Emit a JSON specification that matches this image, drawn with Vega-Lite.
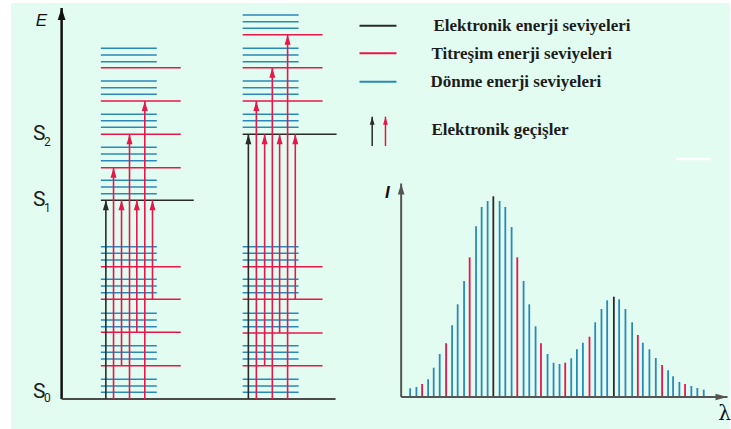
{
  "$schema": "https://vega.github.io/schema/vega-lite/v6.json",
  "width": 731,
  "height": 429,
  "padding": 0,
  "autosize": {"type": "fit", "contains": "padding"},
  "background": "#ffffff",
  "view": {"stroke": null},
  "config": {"axis": {"disable": true}},
  "datasets": {
    "panel": [{"x": 11, "x2": 731, "y": 3, "y2": 429}],
    "extents": [
      {"band": "L-donme", "x": 101, "x2": 157},
      {"band": "L-titresim", "x": 101, "x2": 181},
      {"band": "L-elektronik", "x": 101, "x2": 194},
      {"band": "R-donme", "x": 243, "x2": 299},
      {"band": "R-titresim", "x": 243, "x2": 323},
      {"band": "R-elektronik", "x": 243, "x2": 337}
    ],
    "levels": [
      {"band": "L-donme", "y": 48.3, "type": "donme"}, {"band": "L-donme", "y": 55, "type": "donme"}, {"band": "L-donme", "y": 61.7, "type": "donme"}, {"band": "L-titresim", "y": 67.7, "type": "titresim"},
      {"band": "L-donme", "y": 81, "type": "donme"}, {"band": "L-donme", "y": 87.7, "type": "donme"}, {"band": "L-donme", "y": 94.3, "type": "donme"}, {"band": "L-titresim", "y": 101, "type": "titresim"},
      {"band": "L-donme", "y": 114.3, "type": "donme"}, {"band": "L-donme", "y": 120.7, "type": "donme"}, {"band": "L-donme", "y": 127.3, "type": "donme"}, {"band": "L-titresim", "y": 134.3, "type": "titresim"},
      {"band": "L-donme", "y": 147.3, "type": "donme"}, {"band": "L-donme", "y": 154, "type": "donme"}, {"band": "L-donme", "y": 160.7, "type": "donme"}, {"band": "L-titresim", "y": 167.7, "type": "titresim"},
      {"band": "L-donme", "y": 180.3, "type": "donme"}, {"band": "L-donme", "y": 187, "type": "donme"}, {"band": "L-donme", "y": 193.7, "type": "donme"}, {"band": "L-elektronik", "y": 200.3, "type": "elektronik"},
      {"band": "L-donme", "y": 246.7, "type": "donme"}, {"band": "L-donme", "y": 253.3, "type": "donme"}, {"band": "L-donme", "y": 260, "type": "donme"}, {"band": "L-titresim", "y": 266.7, "type": "titresim"},
      {"band": "L-donme", "y": 279.3, "type": "donme"}, {"band": "L-donme", "y": 286, "type": "donme"}, {"band": "L-donme", "y": 292.7, "type": "donme"}, {"band": "L-titresim", "y": 299.3, "type": "titresim"},
      {"band": "L-donme", "y": 313.3, "type": "donme"}, {"band": "L-donme", "y": 320, "type": "donme"}, {"band": "L-donme", "y": 326.7, "type": "donme"}, {"band": "L-titresim", "y": 332.3, "type": "titresim"},
      {"band": "L-donme", "y": 345.7, "type": "donme"}, {"band": "L-donme", "y": 352.3, "type": "donme"}, {"band": "L-donme", "y": 359, "type": "donme"}, {"band": "L-titresim", "y": 365.7, "type": "titresim"},
      {"band": "L-donme", "y": 379.3, "type": "donme"}, {"band": "L-donme", "y": 386, "type": "donme"}, {"band": "L-donme", "y": 392.3, "type": "donme"},
      {"band": "R-donme", "y": 15, "type": "donme"}, {"band": "R-donme", "y": 21.7, "type": "donme"}, {"band": "R-donme", "y": 28.3, "type": "donme"}, {"band": "R-titresim", "y": 34.7, "type": "titresim"},
      {"band": "R-donme", "y": 48.3, "type": "donme"}, {"band": "R-donme", "y": 55, "type": "donme"}, {"band": "R-donme", "y": 61.7, "type": "donme"}, {"band": "R-titresim", "y": 67.7, "type": "titresim"},
      {"band": "R-donme", "y": 81, "type": "donme"}, {"band": "R-donme", "y": 87.7, "type": "donme"}, {"band": "R-donme", "y": 94.3, "type": "donme"}, {"band": "R-titresim", "y": 101, "type": "titresim"},
      {"band": "R-donme", "y": 114.3, "type": "donme"}, {"band": "R-donme", "y": 120.7, "type": "donme"}, {"band": "R-donme", "y": 127.3, "type": "donme"}, {"band": "R-elektronik", "y": 134.3, "type": "elektronik"},
      {"band": "R-donme", "y": 246.7, "type": "donme"}, {"band": "R-donme", "y": 253.3, "type": "donme"}, {"band": "R-donme", "y": 260, "type": "donme"}, {"band": "R-titresim", "y": 266.7, "type": "titresim"},
      {"band": "R-donme", "y": 279.3, "type": "donme"}, {"band": "R-donme", "y": 286, "type": "donme"}, {"band": "R-donme", "y": 292.7, "type": "donme"}, {"band": "R-titresim", "y": 299.3, "type": "titresim"},
      {"band": "R-donme", "y": 313.3, "type": "donme"}, {"band": "R-donme", "y": 320, "type": "donme"}, {"band": "R-donme", "y": 326.7, "type": "donme"}, {"band": "R-titresim", "y": 333, "type": "titresim"},
      {"band": "R-donme", "y": 345.7, "type": "donme"}, {"band": "R-donme", "y": 352.3, "type": "donme"}, {"band": "R-donme", "y": 359, "type": "donme"}, {"band": "R-titresim", "y": 365.7, "type": "titresim"},
      {"band": "R-donme", "y": 379.3, "type": "donme"}, {"band": "R-donme", "y": 386, "type": "donme"}, {"band": "R-donme", "y": 392.3, "type": "donme"}
    ],
    "arrows": [
      {"x": 106, "y": 399, "y2": 200.3, "type": "elektronik"},
      {"x": 113.7, "y": 399, "y2": 167.7, "type": "titresim"},
      {"x": 121.7, "y": 365.7, "y2": 200.3, "type": "titresim"},
      {"x": 129.7, "y": 399, "y2": 134.3, "type": "titresim"},
      {"x": 137, "y": 332.3, "y2": 200.3, "type": "titresim"},
      {"x": 145, "y": 399, "y2": 101, "type": "titresim"},
      {"x": 152.7, "y": 299.3, "y2": 200.3, "type": "titresim"},
      {"x": 248.7, "y": 399, "y2": 134.3, "type": "elektronik"},
      {"x": 256.7, "y": 399, "y2": 101, "type": "titresim"},
      {"x": 265, "y": 365.7, "y2": 134.3, "type": "titresim"},
      {"x": 272.7, "y": 399, "y2": 67.7, "type": "titresim"},
      {"x": 280, "y": 333, "y2": 134.3, "type": "titresim"},
      {"x": 288, "y": 399, "y2": 34.7, "type": "titresim"},
      {"x": 295.7, "y": 299.3, "y2": 134.3, "type": "titresim"}
    ],
    "legendArrows": [
      {"x": 372.7, "y": 146, "y2": 116.7, "type": "elektronik"},
      {"x": 386, "y": 146, "y2": 116.7, "type": "titresim"}
    ],
    "legendLines": [
      {"x": 360, "x2": 397, "y": 25.7, "type": "elektronik"},
      {"x": 360, "x2": 397, "y": 53.3, "type": "titresim"},
      {"x": 360, "x2": 397, "y": 81.7, "type": "donme"}
    ],
    "whiteDash": [{"x": 677, "x2": 711.5, "y": 159}],
    "spectrum": [
      {"x": 410.7, "top": 388.3, "type": "donme"},
      {"x": 417, "top": 387, "type": "donme"},
      {"x": 422.7, "top": 384, "type": "titresim"},
      {"x": 428.7, "top": 379.3, "type": "donme"},
      {"x": 434.3, "top": 367.7, "type": "donme"},
      {"x": 440.3, "top": 354, "type": "donme"},
      {"x": 446.7, "top": 343.3, "type": "titresim"},
      {"x": 452.7, "top": 325.3, "type": "donme"},
      {"x": 458.3, "top": 304.3, "type": "donme"},
      {"x": 464.7, "top": 281, "type": "donme"},
      {"x": 470.3, "top": 257.3, "type": "titresim"},
      {"x": 476.7, "top": 226.3, "type": "donme"},
      {"x": 482.3, "top": 207, "type": "donme"},
      {"x": 488.3, "top": 201, "type": "donme"},
      {"x": 494, "top": 196.3, "type": "elektronik"},
      {"x": 500.3, "top": 201, "type": "donme"},
      {"x": 506, "top": 207, "type": "donme"},
      {"x": 512.3, "top": 227, "type": "donme"},
      {"x": 518, "top": 257.3, "type": "titresim"},
      {"x": 524.3, "top": 281, "type": "donme"},
      {"x": 530, "top": 304.3, "type": "donme"},
      {"x": 536.3, "top": 326.3, "type": "donme"},
      {"x": 541.7, "top": 343.3, "type": "titresim"},
      {"x": 548.3, "top": 354, "type": "donme"},
      {"x": 554.3, "top": 362.7, "type": "donme"},
      {"x": 560.3, "top": 364, "type": "donme"},
      {"x": 566, "top": 362.7, "type": "titresim"},
      {"x": 572, "top": 358.3, "type": "donme"},
      {"x": 577.7, "top": 349.3, "type": "donme"},
      {"x": 583.7, "top": 342.7, "type": "donme"},
      {"x": 590.3, "top": 336.7, "type": "titresim"},
      {"x": 596, "top": 322.3, "type": "donme"},
      {"x": 602.3, "top": 309, "type": "donme"},
      {"x": 608, "top": 300.3, "type": "donme"},
      {"x": 614.7, "top": 296.7, "type": "elektronik"},
      {"x": 620, "top": 299.3, "type": "donme"},
      {"x": 626.3, "top": 309, "type": "donme"},
      {"x": 633, "top": 322.3, "type": "donme"},
      {"x": 638.7, "top": 335, "type": "titresim"},
      {"x": 643.7, "top": 342.7, "type": "donme"},
      {"x": 650.3, "top": 349.3, "type": "donme"},
      {"x": 656.7, "top": 358, "type": "donme"},
      {"x": 663, "top": 365, "type": "titresim"},
      {"x": 669, "top": 370.3, "type": "donme"},
      {"x": 674, "top": 376.3, "type": "donme"},
      {"x": 680.3, "top": 382, "type": "donme"},
      {"x": 686, "top": 384, "type": "titresim"},
      {"x": 692.3, "top": 386, "type": "donme"},
      {"x": 698.3, "top": 388, "type": "donme"},
      {"x": 704.7, "top": 389.7, "type": "donme"}
    ],
    "axisE": [{"x": 61.7, "y": 399, "y2": 8}],
    "axisEBase": [{"x": 61.7, "x2": 336, "y": 399}],
    "axisI": [{"x": 401.7, "y": 397, "y2": 183.5}],
    "axisLambda": [{"x": 401.7, "x2": 728.5, "y": 397}],
    "legendText": [
      {"x": 434, "y": 26, "text": "Elektronik enerji seviyeleri"},
      {"x": 432, "y": 53.5, "text": "Titreşim enerji seviyeleri"},
      {"x": 431, "y": 81.5, "text": "Dönme enerji seviyeleri"},
      {"x": 432, "y": 129.5, "text": "Elektronik geçişler"}
    ],
    "stateText": [
      {"x": 33, "y": 140, "text": "S"},
      {"x": 33, "y": 206, "text": "S"},
      {"x": 33, "y": 398, "text": "S"}
    ],
    "subText": [
      {"x": 44, "y": 146, "text": "2"},
      {"x": 44, "y": 212, "text": "1"},
      {"x": 44, "y": 402, "text": "0"}
    ],
    "labelE": [{"x": 41.5, "y": 25.5, "text": "E"}],
    "labelI": [{"x": 388, "y": 197.5, "text": "I"}],
    "lambdaLabel": [{"x": 725.5, "y": 420, "text": "λ"}]
  },
  "layer": [
    {
      "data": {"name": "panel"},
      "mark": {"type": "rect", "color": "#e3fcf1"},
      "encoding": {
        "x": {"field": "x", "type": "quantitative", "scale": {"domain": [0, 731], "nice": false, "zero": false}},
        "x2": {"field": "x2"},
        "y": {"field": "y", "type": "quantitative", "scale": {"domain": [0, 429], "nice": false, "zero": false, "reverse": true}},
        "y2": {"field": "y2"}
      }
    },
    {
      "data": {"name": "whiteDash"},
      "mark": {"type": "rule", "color": "#ffffff", "strokeWidth": 2.5},
      "encoding": {
        "x": {"field": "x", "type": "quantitative"},
        "x2": {"field": "x2"},
        "y": {"field": "y", "type": "quantitative"}
      }
    },
    {
      "data": {"name": "levels"},
      "transform": [
        {"lookup": "band", "from": {"data": {"name": "extents"}, "key": "band", "fields": ["x", "x2"]}}
      ],
      "mark": {"type": "rule", "strokeWidth": 1.6},
      "encoding": {
        "x": {"field": "x", "type": "quantitative"},
        "x2": {"field": "x2"},
        "y": {"field": "y", "type": "quantitative"},
        "color": {"field": "type", "type": "nominal", "legend": null, "scale": {"domain": ["elektronik", "titresim", "donme"], "range": ["#2a2a2a", "#e8174a", "#2a89b9"]}}
      }
    },
    {
      "data": {"name": "axisE"},
      "mark": {"type": "rule", "color": "#111111", "strokeWidth": 2.5},
      "encoding": {
        "x": {"field": "x", "type": "quantitative"},
        "y": {"field": "y", "type": "quantitative"},
        "y2": {"field": "y2"}
      }
    },
    {
      "data": {"name": "axisE"},
      "mark": {"type": "point", "shape": "M0,-1L0.65,1L-0.65,1Z", "filled": true, "opacity": 1, "color": "#111111", "size": 144, "yOffset": 6},
      "encoding": {
        "x": {"field": "x", "type": "quantitative"},
        "y": {"field": "y2", "type": "quantitative"}
      }
    },
    {
      "data": {"name": "axisEBase"},
      "mark": {"type": "rule", "color": "#4a4a4a", "strokeWidth": 2},
      "encoding": {
        "x": {"field": "x", "type": "quantitative"},
        "x2": {"field": "x2"},
        "y": {"field": "y", "type": "quantitative"}
      }
    },
    {
      "data": {"name": "arrows"},
      "mark": {"type": "rule", "strokeWidth": 1.6},
      "encoding": {
        "x": {"field": "x", "type": "quantitative"},
        "y": {"field": "y", "type": "quantitative"},
        "y2": {"field": "y2"},
        "color": {"field": "type", "type": "nominal", "legend": null}
      }
    },
    {
      "data": {"name": "arrows"},
      "mark": {"type": "point", "shape": "M0,-1L0.6,1L-0.6,1Z", "filled": true, "opacity": 1, "size": 100, "yOffset": 5},
      "encoding": {
        "x": {"field": "x", "type": "quantitative"},
        "y": {"field": "y2", "type": "quantitative"},
        "color": {"field": "type", "type": "nominal", "legend": null}
      }
    },
    {
      "data": {"name": "legendLines"},
      "mark": {"type": "rule", "strokeWidth": 2},
      "encoding": {
        "x": {"field": "x", "type": "quantitative"},
        "x2": {"field": "x2"},
        "y": {"field": "y", "type": "quantitative"},
        "color": {"field": "type", "type": "nominal", "legend": null}
      }
    },
    {
      "data": {"name": "legendArrows"},
      "mark": {"type": "rule", "strokeWidth": 1.5},
      "encoding": {
        "x": {"field": "x", "type": "quantitative"},
        "y": {"field": "y", "type": "quantitative"},
        "y2": {"field": "y2"},
        "color": {"field": "type", "type": "nominal", "legend": null}
      }
    },
    {
      "data": {"name": "legendArrows"},
      "mark": {"type": "point", "shape": "M0,-1L0.6,1L-0.6,1Z", "filled": true, "opacity": 1, "size": 64, "yOffset": 4},
      "encoding": {
        "x": {"field": "x", "type": "quantitative"},
        "y": {"field": "y2", "type": "quantitative"},
        "color": {"field": "type", "type": "nominal", "legend": null}
      }
    },
    {
      "data": {"name": "spectrum"},
      "mark": {"type": "rule", "strokeWidth": 1.8},
      "encoding": {
        "x": {"field": "x", "type": "quantitative"},
        "y": {"field": "top", "type": "quantitative"},
        "y2": {"datum": 397},
        "color": {"field": "type", "type": "nominal", "legend": null}
      }
    },
    {
      "data": {"name": "axisI"},
      "mark": {"type": "rule", "color": "#555555", "strokeWidth": 2},
      "encoding": {
        "x": {"field": "x", "type": "quantitative"},
        "y": {"field": "y", "type": "quantitative"},
        "y2": {"field": "y2"}
      }
    },
    {
      "data": {"name": "axisI"},
      "mark": {"type": "point", "shape": "M0,-1L0.6,1L-0.6,1Z", "filled": true, "opacity": 1, "color": "#555555", "size": 121, "yOffset": 5.5},
      "encoding": {
        "x": {"field": "x", "type": "quantitative"},
        "y": {"field": "y2", "type": "quantitative"}
      }
    },
    {
      "data": {"name": "axisLambda"},
      "mark": {"type": "rule", "color": "#555555", "strokeWidth": 2},
      "encoding": {
        "x": {"field": "x", "type": "quantitative"},
        "x2": {"field": "x2"},
        "y": {"field": "y", "type": "quantitative"}
      }
    },
    {
      "data": {"name": "axisLambda"},
      "mark": {"type": "point", "shape": "M1,0L-1,-0.55L-1,0.55Z", "filled": true, "opacity": 1, "color": "#555555", "size": 144, "xOffset": -6},
      "encoding": {
        "x": {"field": "x2", "type": "quantitative"},
        "y": {"field": "y", "type": "quantitative"}
      }
    },
    {
      "data": {"name": "legendText"},
      "mark": {"type": "text", "align": "left", "baseline": "middle", "font": "Liberation Serif", "fontWeight": "bold", "fontSize": 17, "color": "#1c1c1c"},
      "encoding": {
        "x": {"field": "x", "type": "quantitative"},
        "y": {"field": "y", "type": "quantitative"},
        "text": {"field": "text"}
      }
    },
    {
      "data": {"name": "stateText"},
      "mark": {"type": "text", "align": "left", "baseline": "alphabetic", "font": "Roboto", "fontSize": 21, "color": "#1e1e1e"},
      "encoding": {
        "x": {"field": "x", "type": "quantitative"},
        "y": {"field": "y", "type": "quantitative"},
        "text": {"field": "text"}
      }
    },
    {
      "data": {"name": "subText"},
      "mark": {"type": "text", "align": "left", "baseline": "alphabetic", "font": "Roboto", "fontSize": 12, "color": "#1e1e1e"},
      "encoding": {
        "x": {"field": "x", "type": "quantitative"},
        "y": {"field": "y", "type": "quantitative"},
        "text": {"field": "text"}
      }
    },
    {
      "data": {"name": "labelE"},
      "mark": {"type": "text", "align": "center", "baseline": "alphabetic", "font": "Liberation Sans", "fontStyle": "italic", "fontSize": 17, "color": "#111111"},
      "encoding": {
        "x": {"field": "x", "type": "quantitative"},
        "y": {"field": "y", "type": "quantitative"},
        "text": {"field": "text"}
      }
    },
    {
      "data": {"name": "labelI"},
      "mark": {"type": "text", "align": "center", "baseline": "alphabetic", "font": "Liberation Sans", "fontStyle": "italic", "fontWeight": "bold", "fontSize": 17, "color": "#111111"},
      "encoding": {
        "x": {"field": "x", "type": "quantitative"},
        "y": {"field": "y", "type": "quantitative"},
        "text": {"field": "text"}
      }
    },
    {
      "data": {"name": "lambdaLabel"},
      "mark": {"type": "text", "align": "center", "baseline": "alphabetic", "font": "DejaVu Serif", "fontSize": 20, "color": "#111111"},
      "encoding": {
        "x": {"field": "x", "type": "quantitative"},
        "y": {"field": "y", "type": "quantitative"},
        "text": {"field": "text"}
      }
    }
  ]
}
